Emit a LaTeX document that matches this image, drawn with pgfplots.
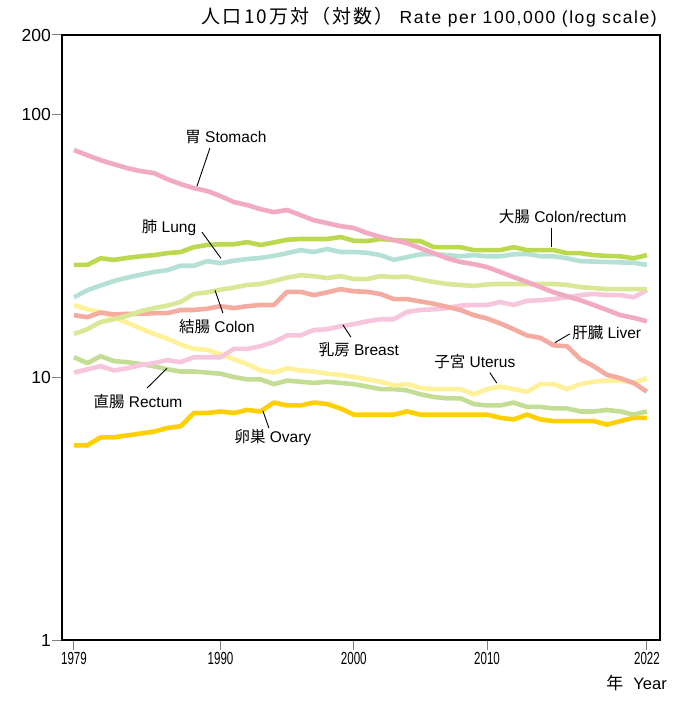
\documentclass[border=0pt]{standalone}
\usepackage{pgfplots}
\pgfplotsset{compat=1.18}
\usepackage{pgfplotstable}
\usepackage{fontspec}
\setmainfont{Liberation Sans}
\newfontfamily\cjk{Noto Sans CJK JP}
\newfontfamily\cjktitle[LetterSpace=11]{Noto Sans CJK JP}
\newfontfamily\titlefont[LetterSpace=9]{Liberation Sans}

\definecolor{cStomach}{RGB}{242,170,192}
\definecolor{cColRect}{RGB}{187,216,78}
\definecolor{cLung}{RGB}{181,224,213}
\definecolor{cColon}{RGB}{216,232,151}
\definecolor{cLiver}{RGB}{244,171,160}
\definecolor{cBreast}{RGB}{247,198,221}
\definecolor{cUterus}{RGB}{255,240,154}
\definecolor{cRectum}{RGB}{195,222,148}
\definecolor{cOvary}{RGB}{255,208,0}

\pgfplotstableread{
year stomach colrect lung colon liver breast uterus rectum ovary
1979 73.0 26.7 20.1 14.6 17.2 10.4 18.8 11.9 5.5
1980 69.8 26.7 21.4 15.2 16.9 10.7 18.1 11.3 5.5
1981 66.8 28.3 22.3 16.2 17.6 11.0 17.7 12.0 5.9
1982 64.5 27.9 23.2 16.6 17.3 10.6 16.8 11.5 5.9
1983 62.3 28.4 23.9 17.1 17.4 10.8 16.1 11.4 6.0
1984 60.7 28.8 24.5 17.8 17.4 11.1 15.3 11.2 6.1
1985 59.7 29.1 25.1 18.3 17.5 11.3 14.6 11.0 6.2
1986 56.6 29.6 25.5 18.7 17.5 11.6 14.0 10.7 6.4
1987 54.2 29.9 26.5 19.3 18.0 11.4 13.3 10.5 6.5
1988 52.3 31.2 26.5 20.7 18.0 11.9 12.8 10.5 7.3
1989 51.0 31.8 27.6 21.0 18.2 11.9 12.7 10.4 7.3
1990 48.8 32.0 27.1 21.5 18.6 11.9 12.2 10.3 7.4
1991 46.3 32.0 27.7 21.9 18.3 12.8 11.7 10.0 7.3
1992 45.1 32.6 28.1 22.4 18.6 12.8 11.2 9.8 7.5
1993 43.5 31.8 28.4 22.6 18.8 13.1 10.6 9.8 7.4
1994 42.4 32.5 28.9 23.2 18.8 13.6 10.4 9.4 8.0
1995 43.2 33.3 29.6 23.9 21.1 14.4 10.8 9.7 7.8
1996 41.3 33.5 30.4 24.4 21.1 14.4 10.6 9.6 7.8
1997 39.5 33.5 29.9 24.2 20.5 15.1 10.5 9.5 8.0
1998 38.5 33.5 30.7 23.8 21.0 15.2 10.3 9.6 7.9
1999 37.5 34.1 29.9 24.2 21.6 15.6 10.2 9.5 7.6
2000 36.9 33.0 29.9 23.6 21.2 15.9 10.0 9.4 7.2
2001 35.3 32.9 29.7 23.6 21.1 16.3 9.8 9.2 7.2
2002 34.1 33.5 29.1 24.2 20.7 16.6 9.6 9.0 7.2
2003 33.2 33.2 27.9 24.0 19.8 16.6 9.3 9.0 7.2
2004 32.3 33.0 28.6 24.1 19.8 17.7 9.4 8.9 7.4
2005 30.9 32.9 29.3 23.5 19.4 18.0 9.1 8.6 7.2
2006 29.6 31.2 29.4 23.0 19.0 18.1 9.0 8.4 7.2
2007 28.3 31.2 29.1 22.6 18.5 18.3 9.0 8.3 7.2
2008 27.4 31.2 28.8 22.4 18.0 18.7 9.0 8.3 7.2
2009 26.9 30.4 29.1 22.2 17.2 18.8 8.6 7.9 7.2
2010 26.2 30.4 28.8 22.5 16.7 18.8 9.0 7.8 7.2
2011 25.1 30.4 28.8 22.6 16.0 19.3 9.2 7.8 7.0
2012 24.0 31.2 29.3 22.6 15.2 18.8 9.0 8.0 6.9
2013 23.0 30.4 29.4 22.6 14.4 19.5 8.8 7.7 7.2
2014 22.0 30.4 28.8 22.6 14.1 19.6 9.4 7.7 6.9
2015 21.0 30.4 28.8 22.6 13.2 19.8 9.4 7.6 6.8
2016 20.3 29.6 28.3 22.4 13.1 20.1 9.0 7.6 6.8
2017 19.6 29.6 27.6 22.0 11.7 20.5 9.4 7.4 6.8
2018 18.8 29.1 27.5 21.8 11.0 20.7 9.6 7.4 6.8
2019 18.0 28.9 27.4 21.6 10.2 20.5 9.7 7.5 6.6
2020 17.2 28.8 27.3 21.6 9.9 20.5 9.7 7.4 6.8
2021 16.8 28.3 27.2 21.6 9.5 20.1 9.5 7.2 7.0
2022 16.3 29.1 26.7 21.6 8.8 21.4 9.9 7.4 7.0
}\data

\newcommand{\lab}{\fontsize{15.5}{18}\selectfont}

\begin{document}
\begin{tikzpicture}
\path[use as bounding box] (-62pt,-62pt) rectangle (619pt,640pt);
\begin{axis}[
  at={(0,0)}, anchor=south west,
  scale only axis, width=598pt, height=605pt,
  xmin=1978.1, xmax=2022.98,
  ymode=log, ymin=1, ymax=200,
  ytick={1,10,100,200}, yticklabels={1,10,100,200},
  yminorticks=false,
  xtick={1979,1990,2000,2010,2022},
  xticklabels={\scalebox{0.66}[1]{1979},\scalebox{0.66}[1]{1990},\scalebox{0.66}[1]{2000},\scalebox{0.66}[1]{2010},\scalebox{0.66}[1]{2022}},
  xtick pos=bottom, ytick pos=left,
  tick align=outside, major tick length=10pt,
  tick style={gray, line width=1pt},
  axis line style={black, line width=1.6pt},
  yticklabel style={font=\fontsize{17.5}{17.5}\selectfont, inner sep=1pt},
  xticklabel style={font=\fontsize{17.5}{17.5}\selectfont, inner sep=2pt},
  every axis plot/.append style={line width=4.6pt, line join=round},
  clip=false,
]
\addplot[cOvary] table[x=year,y=ovary]{\data};
\addplot[cRectum] table[x=year,y=rectum]{\data};
\addplot[cUterus] table[x=year,y=uterus]{\data};
\addplot[cBreast] table[x=year,y=breast]{\data};
\addplot[cLiver] table[x=year,y=liver]{\data};
\addplot[cColon] table[x=year,y=colon]{\data};
\addplot[cLung] table[x=year,y=lung]{\data};
\addplot[cColRect] table[x=year,y=colrect]{\data};
\addplot[cStomach] table[x=year,y=stomach]{\data};

% labels
\node[font=\lab] at (axis cs:1990.40,81.7) {{\cjk 胃} Stomach};
\draw[line width=0.9pt] (axis cs:1989.20,74.3) -- (axis cs:1988.23,53.2);
\node[font=\lab] at (axis cs:1986.13,36.9) {{\cjk 肺} Lung};
\draw[line width=0.9pt] (axis cs:1988.60,35.6) -- (axis cs:1990.03,28.3);
\node[font=\lab] at (axis cs:1989.73,15.6) {{\cjk 結腸} Colon};
\draw[line width=0.9pt] (axis cs:1989.58,21.4) -- (axis cs:1990.18,17.5);
\node[font=\lab] at (axis cs:2000.38,12.7) {{\cjk 乳房} Breast};
\draw[line width=0.9pt] (axis cs:1999.18,15.8) -- (axis cs:1999.78,14.2);
\node[font=\lab] at (axis cs:2015.68,40.6) {{\cjk 大腸} Colon/rectum};
\draw[line width=0.9pt] (axis cs:2014.86,36.9) -- (axis cs:2014.86,31.2);
\node[font=\lab] at (axis cs:2018.98,14.7) {{\cjk 肝臓} Liver};
\draw[line width=0.9pt] (axis cs:2016.21,14.6) -- (axis cs:2015.08,13.5);
\node[font=\lab] at (axis cs:2009.08,11.4) {{\cjk 子宮} Uterus};
\draw[line width=0.9pt] (axis cs:2010.21,10.4) -- (axis cs:2010.73,9.49);
\node[font=\lab] at (axis cs:1983.80,8.10) {{\cjk 直腸} Rectum};
\draw[line width=0.9pt] (axis cs:1984.48,9.08) -- (axis cs:1985.98,10.8);
\node[font=\lab] at (axis cs:1993.93,5.91) {{\cjk 卵巣} Ovary};
\draw[line width=0.9pt] (axis cs:1993.18,7.43) -- (axis cs:1993.63,6.40);
\end{axis}
\node[anchor=east, inner sep=0pt] at ([shift={(-3pt,18pt)}]current axis.north east)
  {{\cjktitle\fontsize{19}{19}\selectfont 人口10万対（対数）}\hspace{6pt}{\titlefont\fontsize{17.5}{18}\selectfont Rate per 100,000 (log scale)}};
\node[anchor=east, inner sep=0pt] at ([shift={(605pt,-43pt)}]current axis.south west)
  {{\cjk\fontsize{17}{17}\selectfont 年}\hspace{10pt}{\fontsize{16.5}{17}\selectfont Year}};
\end{tikzpicture}
\end{document}
